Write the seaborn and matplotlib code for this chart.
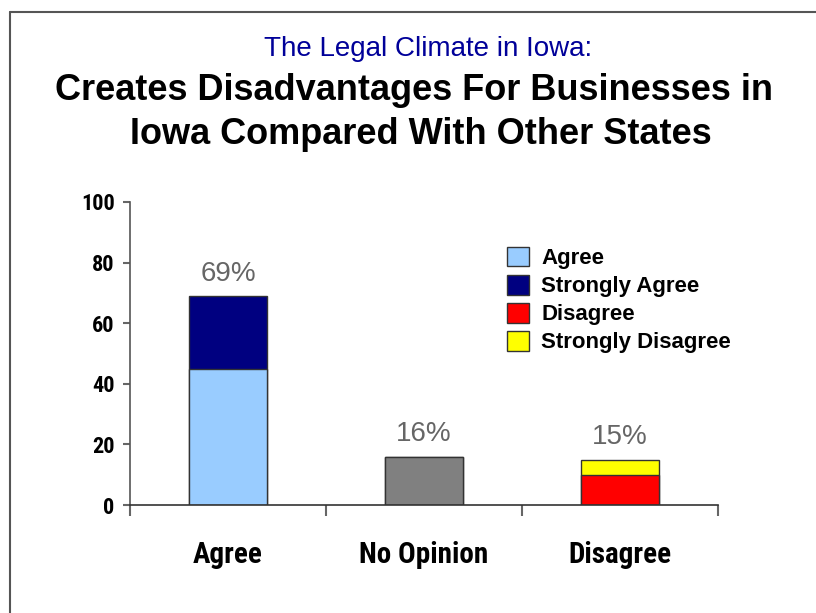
import matplotlib
matplotlib.use("Agg")
import matplotlib.pyplot as plt
import seaborn as sns
import pandas as pd
from matplotlib.patches import Patch
from matplotlib.lines import Line2D

# Data
categories = ['Agree', 'No Opinion', 'Disagree']
bottom_vals = [45, 16, 10]   # Agree / No Opinion / Disagree
top_vals = [24, 0, 5]        # Strongly Agree / - / Strongly Disagree
bar_labels = ['69%', '16%', '15%']
legend_labels = ['Agree', 'Strongly Agree', 'Disagree', 'Strongly Disagree']

bottom_colors = ['#99CCFF', '#808080', '#FF0000']
top_colors = ['#000080', '#808080', '#FFFF00']
legend_colors = ['#99CCFF', '#000080', '#FF0000', '#FFFF00']

df = pd.DataFrame({'cat': categories, 'bottom': bottom_vals, 'top': top_vals})
df['total'] = df['bottom'] + df['top']

sns.set_style("ticks")
plt.rcParams['font.family'] = ['Liberation Sans', 'DejaVu Sans']
plt.rcParams['text.color'] = 'black'
plt.rcParams['xtick.labelcolor'] = 'black'
plt.rcParams['ytick.labelcolor'] = 'black'
narrow = ['Roboto Condensed', 'Liberation Sans', 'DejaVu Sans']

fig = plt.figure(figsize=(8.16, 6.13), dpi=100)
ax = fig.add_axes([130 / 816, 1 - 505 / 613, 588 / 816, 303 / 613])

# stacked bars: totals first, lower segment drawn over them
sns.barplot(data=df, x='cat', y='total', hue='cat', palette=top_colors, saturation=1,
            width=0.4, edgecolor='#333333', linewidth=1, legend=False, ax=ax)
sns.barplot(data=df, x='cat', y='bottom', hue='cat', palette=bottom_colors, saturation=1,
            width=0.4, edgecolor='#333333', linewidth=1, legend=False, ax=ax)

for i, (t, lab) in enumerate(zip(df['total'], bar_labels)):
    ax.text(i, t + 3, lab, ha='center', va='bottom', fontsize=20, color='#666666')

ax.set_xlim(-0.5, 2.5)
ax.set_ylim(0, 100)
ax.set_yticks(range(0, 101, 20))
ax.set_xlabel('')
ax.set_ylabel('')
ax.set_xticks(range(len(categories)))
ax.set_xticklabels(categories, fontsize=21, fontweight='bold', family=narrow, color='black')
ax.set_xticks([-0.5, 0.5, 1.5, 2.5], minor=True)
ax.tick_params(axis='x', which='major', length=0, pad=26)
ax.tick_params(axis='x', which='minor', length=8, width=1.5, color='#666666')
ax.tick_params(axis='y', length=5, width=1.5, color='#666666', pad=6)
for lbl in ax.get_yticklabels():
    lbl.set_fontsize(16)
    lbl.set_fontweight('bold')
    lbl.set_family(narrow)
    lbl.set_color('black')

ax.spines['top'].set_visible(False)
ax.spines['right'].set_visible(False)
ax.spines['left'].set_color('#555555')
ax.spines['bottom'].set_color('#333333')
ax.spines['left'].set_linewidth(1.2)
ax.spines['bottom'].set_linewidth(1.2)

handles = [Patch(facecolor=c, edgecolor='#333333', linewidth=1) for c in legend_colors]
leg = ax.legend(handles, legend_labels, loc='upper left', bbox_to_anchor=(0.641, 0.853),
                frameon=False, prop={'weight': 'bold', 'size': 16},
                borderaxespad=0, borderpad=0,
                handlelength=1.0, handleheight=1.0, handletextpad=0.55, labelspacing=0.25)
for t in leg.get_texts():
    t.set_color('black')

# titles
fig.text(428 / 816, 1 - 49 / 613, 'The Legal Climate in Iowa:', ha='center', va='center',
         fontsize=20, color='#000099')
fig.text(414 / 816, 1 - 91 / 613, 'Creates Disadvantages For Businesses in', ha='center',
         va='center', fontsize=26, fontweight='bold', color='black')
fig.text(421 / 816, 1 - 135 / 613, 'Iowa Compared With Other States', ha='center',
         va='center', fontsize=26, fontweight='bold', color='black')

# frame lines along left and top
fig.add_artist(Line2D([10 / 816, 10 / 816], [0, 1 - 12 / 613], color='#555555', lw=1.5))
fig.add_artist(Line2D([10 / 816, 1], [1 - 12 / 613, 1 - 12 / 613], color='#555555', lw=1.5))

fig.savefig('out.png', dpi=100)
plt.close(fig)
